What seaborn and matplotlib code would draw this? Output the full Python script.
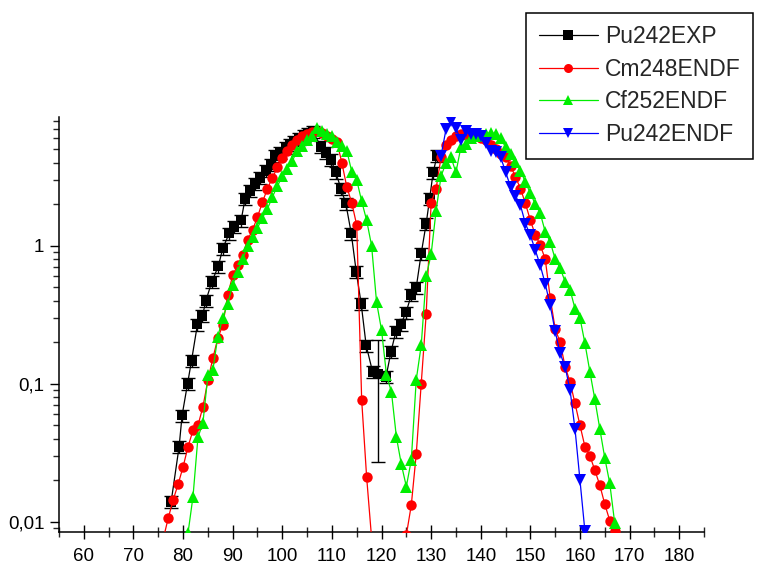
import matplotlib
matplotlib.use("Agg")
import matplotlib.pyplot as plt
from matplotlib.ticker import FixedLocator, FixedFormatter, MultipleLocator, LogLocator, NullFormatter
import numpy as np
import seaborn as sns

# Pu242 experimental yields (black squares with error bars)
exp_mass = [77.6, 79.2, 79.8, 80.9, 81.7, 82.9, 83.9, 84.6, 85.8, 87.1, 88.0, 89.3, 90.3, 91.7,
            92.5, 93.5, 94.4, 95.5, 96.8, 97.7, 98.5, 99.5, 100.7, 101.5, 102.4, 103.4, 104.4,
            105.2, 106.1, 107.9, 108.8, 109.8, 110.8, 111.8, 112.8, 113.9, 114.9, 115.9, 116.9,
            118.2, 119.2, 120.9, 121.9, 122.9, 123.9, 124.95, 126.0, 127.0, 128.0, 129.0, 129.7,
            130.4, 131.2]
exp_yield = [0.014, 0.035, 0.059, 0.10, 0.147, 0.27, 0.31, 0.40, 0.55, 0.71, 0.96, 1.23, 1.37, 1.53,
             2.2, 2.5, 2.8, 3.1, 3.5, 3.85, 4.5, 4.7, 5.1, 5.4, 5.7, 6.0, 6.3,
             6.5, 6.7, 5.2, 4.7, 4.2, 3.4, 2.6, 2.03, 1.23, 0.65, 0.38, 0.19,
             0.122, 0.117, 0.112, 0.17, 0.24, 0.27, 0.33, 0.44, 0.5, 0.88, 1.45, 2.2,
             3.4, 4.5]
exp_err = [0.1 * v for v in exp_yield]
exp_err[40] = 0.09

# Cm248 ENDF (red circles)
cm_mass = list(range(76, 119)) + list(range(125, 168))
cm_yield = [0.0075, 0.0106, 0.0144, 0.0187, 0.025, 0.035, 0.046, 0.05, 0.068, 0.106, 0.153, 0.214,
            0.266, 0.44, 0.61, 0.72, 0.86, 1.1, 1.3, 1.62, 2.07, 2.6, 3.1, 3.7, 4.3, 4.9, 5.4,
            5.8, 6.2, 6.5, 6.7, 6.8, 6.6, 6.3, 5.9, 5.7, 4.0, 2.67, 2.05, 1.41, 0.076, 0.021, 0.0076,
            0.008, 0.0132, 0.031, 0.10, 0.32, 2.05, 2.6, 4.4, 5.4, 5.8, 6.3, 6.5, 6.4, 6.3, 6.2,
            6.0, 5.8, 5.4, 5.0, 4.6, 4.4, 3.8, 3.16, 2.6, 2.03, 1.53, 1.2, 1.01, 0.80, 0.42,
            0.25, 0.20, 0.133, 0.103, 0.072, 0.050, 0.035, 0.030, 0.0236, 0.0184, 0.0134,
            0.0102, 0.0085]

# Cf252 ENDF (green triangles)
cf_mass = list(range(81, 168))
cf_yield = [0.0083, 0.0152, 0.041, 0.052, 0.115, 0.125, 0.22, 0.30, 0.38, 0.52, 0.65, 0.80, 1.0,
            1.15, 1.35, 1.6, 1.85, 2.26, 2.7, 3.2, 3.6, 4.1, 4.9, 5.3, 5.8, 6.3, 7.2, 6.8, 6.5,
            6.3, 5.7, 5.3, 4.9, 3.44, 3.0, 2.1, 1.53, 1.0, 0.39, 0.245, 0.116, 0.087, 0.041,
            0.026, 0.018, 0.028, 0.107, 0.19, 0.6, 0.87, 1.8, 3.2, 4.0, 4.4, 3.4, 5.2, 5.5,
            6.0, 6.2, 6.4, 6.5, 6.6, 6.5, 6.0, 5.2, 4.6, 4.06, 3.5, 2.9, 2.4, 2.0, 1.72, 1.26,
            1.07, 0.80, 0.69, 0.55, 0.48, 0.35, 0.30, 0.196, 0.122, 0.077, 0.047, 0.029,
            0.019, 0.0098]

# Pu242 ENDF (blue down triangles)
pu_mass = list(range(132, 162))
pu_yield = [4.5, 7.0, 8.0, 7.1, 5.8, 6.8, 6.5, 6.5, 6.2, 5.6, 4.9, 4.8, 4.4, 3.44, 2.68, 2.3,
            1.97, 1.45, 1.19, 0.93, 0.72, 0.53, 0.37, 0.24, 0.166, 0.133, 0.09, 0.047, 0.020,
            0.0085]

labels = ["Pu242EXP", "Cm248ENDF", "Cf252ENDF", "Pu242ENDF"]

sns.set_style("ticks")
plt.rcParams["font.family"] = ["Liberation Sans", "DejaVu Sans"]

fig = plt.figure(figsize=(7.57, 5.66), dpi=100)
ax = fig.add_axes([0.078, 0.0595, 0.852, 0.734])

ax.errorbar(exp_mass, exp_yield, yerr=exp_err, fmt="none", ecolor="black",
            elinewidth=1.0, capsize=5, capthick=1.0, zorder=2)
sns.lineplot(x=exp_mass, y=exp_yield, ax=ax, color="black", marker="s", markersize=6.5,
             markeredgewidth=0, linewidth=0.9, zorder=3)
sns.lineplot(x=cm_mass, y=cm_yield, ax=ax, color="#ff0000", marker="o", markersize=7.5,
             markeredgewidth=0, linewidth=0.9, zorder=3)
sns.lineplot(x=cf_mass, y=cf_yield, ax=ax, color="#00ee00", marker="^", markersize=8,
             markeredgewidth=0, linewidth=0.9, zorder=3)
sns.lineplot(x=pu_mass, y=pu_yield, ax=ax, color="#0000ff", marker="v", markersize=8,
             markeredgewidth=0, linewidth=0.9, zorder=3)

ax.set_yscale("log")
ax.set_xlim(55, 185)
ax.set_ylim(0.00838, 8.6)
ax.set_xlabel("")
ax.set_ylabel("")

ax.xaxis.set_minor_locator(MultipleLocator(5))
ax.set_xticks(range(60, 181, 10))
ax.yaxis.set_major_locator(FixedLocator([0.01, 0.1, 1]))
ax.yaxis.set_major_formatter(FixedFormatter(["0,01", "0,1", "1"]))
ax.yaxis.set_minor_locator(LogLocator(base=10, subs=np.arange(2, 10)))
ax.yaxis.set_minor_formatter(NullFormatter())

ax.tick_params(axis="x", which="major", direction="inout", length=10, width=1,
               labelsize=13.5, pad=6, colors="black")
ax.tick_params(axis="x", which="minor", direction="inout", length=6.5, width=1)
ax.tick_params(axis="y", which="major", direction="out", length=6.5, width=1,
               labelsize=13.5, pad=4, colors="black")
ax.tick_params(axis="y", which="minor", direction="out", length=4.3, width=1)

sns.despine(ax=ax)
for side in ["left", "bottom"]:
    ax.spines[side].set_color("black")
    ax.spines[side].set_linewidth(1.1)

data_lines = [h for h in ax.get_lines() if h.get_marker() in ("s", "o", "^", "v")]
leg = ax.legend(data_lines[:4], labels, loc="upper left",
                bbox_to_anchor=(526 / 757, 1 - 12.5 / 566), bbox_transform=fig.transFigure,
                fontsize=16.5, frameon=True, fancybox=False, framealpha=1,
                edgecolor="black", borderpad=0.55, labelspacing=0.42,
                handlelength=2.6, handletextpad=0.3, borderaxespad=0)
leg.get_frame().set_linewidth(1.1)
for h in leg.legend_handles:
    h.set_markersize(6.5)

fig.savefig("out.png", dpi=100)
